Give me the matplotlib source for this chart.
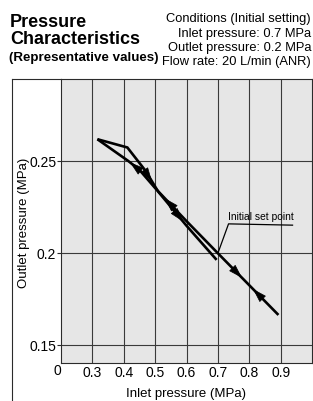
import numpy as np
import matplotlib
matplotlib.use('Agg')
import matplotlib.pyplot as plt
from matplotlib import font_manager
from matplotlib.lines import Line2D
import matplotlib.transforms as mtransforms

# ---------------- data ----------------
# return branch: inlet decreasing 0.9 -> 0.3 (also the initial 0.7 -> 0.9 path)
inlet_return = [0.893, 0.8, 0.7, 0.6, 0.55, 0.5, 0.45, 0.414, 0.316]
outlet_return = [0.1664, 0.1826, 0.2000, 0.2175, 0.2265, 0.2355, 0.2454, 0.2503, 0.2621]
# rising branch: inlet increasing 0.3 -> 0.7
inlet_rise = [0.316, 0.4115, 0.47, 0.51, 0.6, 0.696]
outlet_rise = [0.2621, 0.2576, 0.2448, 0.2335, 0.2150, 0.1964]

# direction arrows: branch, inlet position, direction (+1 = towards higher inlet)
arrow_branch = ['return', 'return', 'return', 'rise', 'return', 'rise']
arrow_inlet = [0.761, 0.828, 0.547, 0.573, 0.436, 0.474]
arrow_dir = [1, -1, -1, 1, -1, 1]

# initial set point and its leader line
set_point_label = 'Initial set point'
leader_x = [0.700, 0.734, 0.938]
leader_y = [0.2000, 0.2160, 0.2153]

x_ticks = [0.3, 0.4, 0.5, 0.6, 0.7, 0.8, 0.9]
x_tick_labels = ['0.3', '0.4', '0.5', '0.6', '0.7', '0.8', '0.9']
x_origin_label = '0'
y_ticks = [0.15, 0.2, 0.25]
y_tick_labels = ['0.15', '0.2', '0.25']
x_range = (0.2, 1.0)
y_range = (0.1405, 0.2949)

title_lines = ['Pressure', 'Characteristics']
subtitle = '(Representative values)'
condition_lines = ['Conditions (Initial setting)', 'Inlet pressure: 0.7 MPa',
                   'Outlet pressure: 0.2 MPa', 'Flow rate: 20 L/min (ANR)']
x_label = 'Inlet pressure (MPa)'
y_label = 'Outlet pressure (MPa)'

# ---------------- fonts ----------------
names = {f.name for f in font_manager.fontManager.ttflist}
SANS = 'Liberation Sans' if 'Liberation Sans' in names else 'DejaVu Sans'
plt.rcParams['font.family'] = [SANS, 'DejaVu Sans']
if 'Liberation Sans Narrow' in names:
    SUB = dict(family='Liberation Sans Narrow', fontsize=11.5)
    SETP = dict(family='Liberation Sans Narrow', fontsize=8.5)
else:
    SUB = dict(family=[SANS, 'DejaVu Sans'], fontsize=9.6)
    SETP = dict(family=[SANS, 'DejaVu Sans'], fontsize=7.4)

W, H = 313, 401
fig = plt.figure(figsize=(W / 100, H / 100), dpi=100)
fig.patch.set_facecolor('white')

def fx(px):
    return px / W

def fy(py):
    return 1 - py / H

ax = fig.add_axes([fx(61), fy(362.5), fx(312) - fx(61), fy(79) - fy(362.5)])
ax.set_facecolor('#e6e6e6')
ax.set_xlim(*x_range)
ax.set_ylim(*y_range)

dark = '#2b2b2b'
ax.set_xticks(x_ticks)
ax.set_xticklabels(x_tick_labels, fontsize=10)
ax.set_yticks(y_ticks)
ax.set_yticklabels(y_tick_labels, fontsize=10)
ax.tick_params(axis='x', length=0, pad=2.5, colors='black')
ax.tick_params(axis='y', length=3, width=0.8, direction='out', pad=0.5, color=dark)
ax.grid(True, color='#3a3a3a', lw=0.8)
ax.set_axisbelow(True)
for s in ax.spines.values():
    s.set_color(dark)
    s.set_linewidth(0.8)

# origin label "0" (broken axis)
trans = mtransforms.blended_transform_factory(ax.transData, ax.transAxes)
ax.text(x_range[0] + 0.002, -0.004, x_origin_label, transform=trans, ha='right',
        va='top', fontsize=10)

# curves
ax.plot(inlet_return, outlet_return, color='black', lw=1.9, solid_capstyle='butt',
        solid_joinstyle='miter', zorder=3)
ax.plot(inlet_rise, outlet_rise, color='black', lw=1.9, solid_capstyle='butt',
        solid_joinstyle='miter', zorder=3)

branches = {
    'return': (np.array(inlet_return[::-1]), np.array(outlet_return[::-1])),
    'rise': (np.array(inlet_rise), np.array(outlet_rise)),
}
for b, xa, d in zip(arrow_branch, arrow_inlet, arrow_dir):
    bx, by = branches[b]
    x_tail, x_head = xa - d * 0.016, xa + d * 0.016
    ax.annotate('', xy=(x_head, np.interp(x_head, bx, by)),
                xytext=(x_tail, np.interp(x_tail, bx, by)),
                arrowprops=dict(arrowstyle='-|>,head_length=0.9,head_width=0.28',
                                color='black', lw=0.5, shrinkA=0, shrinkB=0,
                                mutation_scale=10), zorder=4)

# leader line + label
ax.plot(leader_x, leader_y, color='black', lw=0.9, zorder=4)
ax.text(leader_x[1] - 0.003, leader_y[1] + 0.0022, set_point_label, ha='left',
        va='baseline', zorder=5, **SETP)

# outer frame
fig.add_artist(Line2D([fx(12), fx(12)], [0, fy(79)], color=dark, lw=0.8))
fig.add_artist(Line2D([fx(12), fx(61)], [fy(79), fy(79)], color=dark, lw=0.8))

# axis labels
fig.text(fx(186.5), fy(397.5), x_label, ha='center', va='baseline', fontsize=9.5)
fig.text(fx(24.5), fy(222.5), y_label, ha='center', va='center', rotation=90,
         fontsize=9.5)

# titles
fig.text(fx(10), fy(26.7), title_lines[0], ha='left', va='baseline', fontsize=13,
         fontweight='bold')
fig.text(fx(10), fy(44), title_lines[1], ha='left', va='baseline', fontsize=13,
         fontweight='bold')
fig.text(fx(9), fy(60.5), subtitle, ha='left', va='baseline', fontweight='bold', **SUB)

for line, base in zip(condition_lines, [22, 37.3, 50.7, 65]):
    fig.text(fx(311), fy(base), line, ha='right', va='baseline', fontsize=9.3)

fig.savefig('out.png', dpi=100)
